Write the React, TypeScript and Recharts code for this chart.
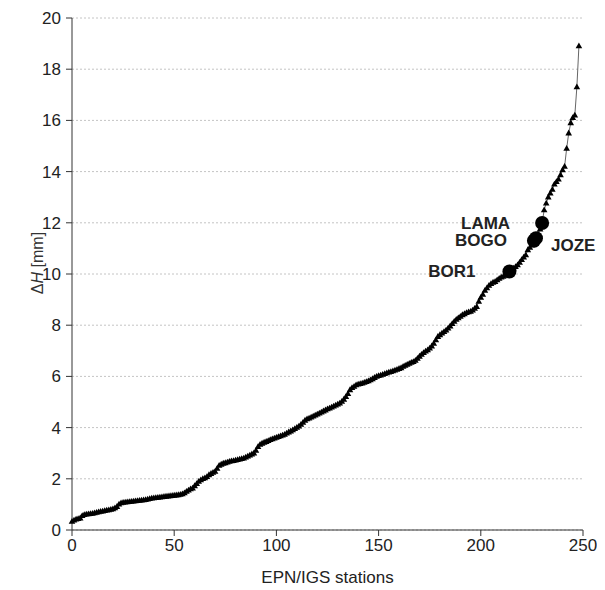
import React from 'react';
import { ComposedChart, Line, Scatter, XAxis, YAxis, CartesianGrid } from 'recharts';

// ΔH per station, sorted ascending, index = station number
const deltaH = [
  0.33, 0.38, 0.42, 0.44, 0.46, 0.55, 0.59, 0.61, 0.62, 0.63,
  0.64, 0.66, 0.68, 0.7, 0.72, 0.73, 0.75, 0.77, 0.78, 0.8,
  0.82, 0.86, 0.91, 1.0, 1.05, 1.07, 1.08, 1.09, 1.1, 1.11,
  1.12, 1.13, 1.14, 1.15, 1.16, 1.17, 1.18, 1.2, 1.22, 1.24,
  1.25, 1.26, 1.27, 1.28, 1.29, 1.3, 1.31, 1.32, 1.33, 1.34,
  1.35, 1.36, 1.37, 1.38, 1.4, 1.44, 1.5, 1.55, 1.6, 1.63,
  1.72, 1.8, 1.89, 1.95, 2.0, 2.03, 2.08, 2.15, 2.2, 2.24,
  2.28, 2.4, 2.52, 2.56, 2.6, 2.62, 2.64, 2.67, 2.69, 2.7,
  2.72, 2.74, 2.76, 2.78, 2.8, 2.84, 2.88, 2.92, 2.96, 3.0,
  3.1, 3.25, 3.34, 3.38, 3.42, 3.45, 3.48, 3.52, 3.55, 3.58,
  3.61, 3.64, 3.67, 3.7, 3.73, 3.78, 3.82, 3.86, 3.9, 3.95,
  4.0, 4.05, 4.12, 4.2, 4.28, 4.33, 4.36, 4.4, 4.44, 4.48,
  4.52, 4.56, 4.6, 4.64, 4.68, 4.72, 4.75, 4.79, 4.83, 4.87,
  4.91, 4.95, 5.02, 5.1, 5.2, 5.32, 5.47, 5.55, 5.6, 5.66,
  5.69, 5.71, 5.73, 5.76, 5.79, 5.82, 5.86, 5.9, 5.95, 5.99,
  6.02, 6.04, 6.07, 6.1, 6.13, 6.16, 6.18, 6.21, 6.24, 6.27,
  6.3, 6.33, 6.38, 6.42, 6.46, 6.5, 6.54, 6.57, 6.62, 6.7,
  6.78, 6.85, 6.92, 6.98, 7.03, 7.1, 7.18, 7.28, 7.42, 7.55,
  7.62, 7.68, 7.74, 7.8, 7.88, 7.96, 8.05, 8.14, 8.22, 8.28,
  8.34, 8.4, 8.44, 8.48, 8.51, 8.53, 8.58, 8.65, 8.72, 8.92,
  9.08, 9.2, 9.35, 9.45, 9.55, 9.62, 9.67, 9.7, 9.76, 9.82,
  9.87, 9.9, 9.95, 10.02, 10.1, 10.16, 10.22, 10.28, 10.35, 10.45,
  10.55, 10.65, 10.74, 10.94, 11.03, 11.13, 11.3, 11.4, 11.55, 11.75,
  11.99, 12.5, 12.76, 13.0, 13.15, 13.3, 13.5, 13.6, 13.7, 13.87,
  14.06, 14.2, 14.9, 15.5, 15.9, 16.1, 16.2, 17.3, 18.9,
];

// highlighted stations
const stationNames = ['BOR1', 'BOGO', 'JOZE', 'LAMA'];
const stationIndex = [214, 226, 227, 230];
const stationDH = [10.1, 11.3, 11.4, 11.99];

const xTicks = [0, 50, 100, 150, 200, 250];
const yTicks = [0, 2, 4, 6, 8, 10, 12, 14, 16, 18, 20];

// where each station label sits relative to its circle
const labelOffset: Record<string, { dx: number; dy: number; anchor: string }> = {
  BOR1: { dx: -34, dy: 0, anchor: 'end' },
  BOGO: { dx: -27, dy: 0, anchor: 'end' },
  JOZE: { dx: 15, dy: 7, anchor: 'start' },
  LAMA: { dx: -32, dy: 0, anchor: 'end' },
};

const lineData = deltaH.map((v, i) => ({ station: i, dH: v }));
const stationData = stationNames.map((name, i) => ({
  name,
  station: stationIndex[i],
  dH: stationDH[i],
}));

const FONT = '"Liberation Sans", Arial, sans-serif';

const Triangle = (props: any) => {
  const { cx, cy, index } = props;
  if (cx == null || cy == null) return null;
  return (
    <polygon
      key={`tri-${index}`}
      points={`${cx},${cy - 3.6} ${cx - 3.3},${cy + 2.2} ${cx + 3.3},${cy + 2.2}`}
      fill="#000"
    />
  );
};

const StationMark = (props: any) => {
  const { cx, cy, payload } = props;
  const o = labelOffset[payload.name];
  return (
    <g>
      <circle cx={cx} cy={cy} r={7} fill="#000" />
      <text
        x={cx + o.dx}
        y={cy + o.dy}
        textAnchor={o.anchor as any}
        dominantBaseline="central"
        fontFamily={FONT}
        fontWeight="bold"
        fontSize={17}
        fill="#222"
      >
        {payload.name}
      </text>
    </g>
  );
};

const YLabel = () => (
  <text
    x={29}
    y={255}
    transform="rotate(-90 29 255)"
    textAnchor="middle"
    dominantBaseline="central"
    fontFamily={FONT}
    fontSize={16}
    fill="#333"
  >
    Δ<tspan fontStyle="italic">H</tspan> [mm]
  </text>
);

export default function App() {
  return (
    <div style={{ width: 589, height: 580 }}>
      <ComposedChart
        width={589}
        height={580}
        data={lineData}
        margin={{ top: 10, right: 14, left: 24, bottom: 2 }}
      >
        <CartesianGrid vertical={false} stroke="#c4c4c4" strokeDasharray="2 2" />
        <XAxis
          dataKey="station"
          type="number"
          domain={[0, 250]}
          ticks={xTicks}
          height={56}
          stroke="#333"
          tickSize={6}
          tickMargin={3}
          tick={{ fill: '#222', fontSize: 17, fontFamily: FONT }}
          label={{
            value: 'EPN/IGS stations',
            position: 'insideBottom',
            offset: 3,
            fill: '#222',
            fontSize: 17,
            fontFamily: FONT,
          }}
        />
        <YAxis
          type="number"
          domain={[0, 20]}
          ticks={yTicks}
          width={40}
          stroke="#333"
          tickSize={6}
          tickMargin={5}
          tick={{ fill: '#222', fontSize: 17, fontFamily: FONT }}
          label={<YLabel />}
        />
        <Line
          dataKey="dH"
          stroke="#666"
          strokeWidth={1}
          dot={<Triangle />}
          activeDot={false}
          isAnimationActive={false}
        />
        <Scatter
          data={stationData}
          dataKey="dH"
          fill="#000"
          shape={<StationMark />}
          isAnimationActive={false}
        />
      </ComposedChart>
    </div>
  );
}
